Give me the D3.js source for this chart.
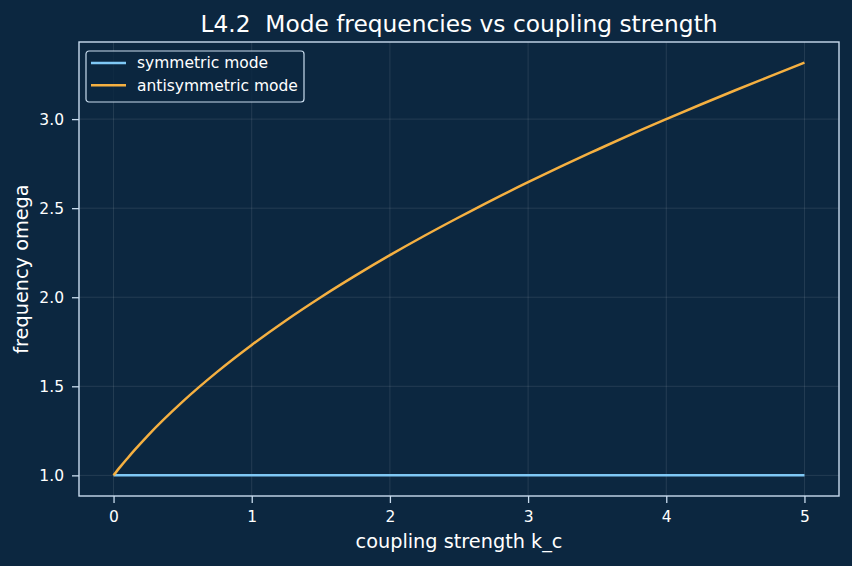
<!DOCTYPE html>
<html lang="en">
<head>
  <meta charset="UTF-8">
  <title>Mode frequencies vs coupling strength</title>
  <script src="https://d3js.org/d3.v7.min.js"></script>
  <style>
    html, body { margin: 0; padding: 0; background: #0c2740; }
    body { font-family: 'DejaVu Sans', sans-serif; }
  </style>
</head>
<body>
  <script>
    // values
    const couplingK = [0, 0.05, 0.1, 0.15, 0.25, 0.5, 0.75, 1, 1.25, 1.5, 1.75, 2, 2.25, 2.5, 2.75,
                       3, 3.25, 3.5, 3.75, 4, 4.25, 4.5, 4.75, 5];
    const symmetricOmega = [1, 1, 1, 1, 1, 1, 1, 1, 1, 1, 1, 1, 1, 1, 1,
                            1, 1, 1, 1, 1, 1, 1, 1, 1];
    const antisymOmega = [1, 1.049, 1.095, 1.140, 1.225, 1.414, 1.581, 1.732, 1.871, 2.0, 2.121, 2.236,
                          2.345, 2.449, 2.550, 2.646, 2.739, 2.828, 2.916, 3.0, 3.082, 3.162, 3.240, 3.317];
    const xTicks = [0, 1, 2, 3, 4, 5];
    const yTicks = [1.0, 1.5, 2.0, 2.5, 3.0];
    const seriesNames = ["symmetric mode", "antisymmetric mode"];
    const seriesColors = ["#7fc8f5", "#f5b041"];

    const width = 852, height = 566;
    const margin = {left: 79, right: 13, top: 42, bottom: 70};
    const fg = "#c9dcee";

    const svg = d3.create("svg")
        .attr("width", width)
        .attr("height", height)
        .style("display", "block")
        .style("background", "#0c2740");

    const xMin = d3.min(couplingK), xMax = d3.max(couplingK);
    const xPad = (xMax - xMin) * 0.05;
    const x = d3.scaleLinear()
        .domain([xMin - xPad, xMax + xPad])
        .range([margin.left, width - margin.right]);

    const yMin = d3.min(symmetricOmega.concat(antisymOmega));
    const yMax = d3.max(symmetricOmega.concat(antisymOmega));
    const yPad = (yMax - yMin) * 0.05;
    const y = d3.scaleLinear()
        .domain([yMin - yPad, yMax + yPad])
        .range([height - margin.bottom, margin.top]);

    // grid
    const grid = svg.append("g")
        .attr("stroke", "#ffffff")
        .attr("stroke-opacity", 0.13)
        .attr("stroke-width", 0.8);
    grid.selectAll("line.gx").data(xTicks).join("line")
        .attr("x1", d => x(d)).attr("x2", d => x(d))
        .attr("y1", margin.top).attr("y2", height - margin.bottom);
    grid.selectAll("line.gy").data(yTicks).join("line")
        .attr("y1", d => y(d)).attr("y2", d => y(d))
        .attr("x1", margin.left).attr("x2", width - margin.right);

    // lines
    const series = [symmetricOmega, antisymOmega];
    const line = d3.line()
        .x((d, i) => x(couplingK[i]))
        .y(d => y(d))
        .curve(d3.curveMonotoneX);

    svg.append("g")
        .selectAll("path")
        .data(series)
        .join("path")
          .attr("fill", "none")
          .attr("stroke", (d, i) => seriesColors[i])
          .attr("stroke-width", 2.5)
          .attr("d", line);

    // axes
    const xAxis = svg.append("g")
        .attr("transform", `translate(0,${height - margin.bottom})`)
        .call(d3.axisBottom(x).tickValues(xTicks).tickFormat(d3.format("d")).tickSize(7).tickPadding(8));
    const yAxis = svg.append("g")
        .attr("transform", `translate(${margin.left},0)`)
        .call(d3.axisLeft(y).tickValues(yTicks).tickFormat(d3.format(".1f")).tickSize(7).tickPadding(8));

    [xAxis, yAxis].forEach(a => {
      a.select(".domain").remove();
      a.selectAll(".tick line").attr("stroke", fg).attr("stroke-width", 1.3);
      a.selectAll(".tick text")
          .attr("fill", "#ffffff")
          .style("font-family", "'DejaVu Sans', sans-serif")
          .style("font-size", "15.5px");
    });

    // frame
    svg.append("rect")
        .attr("x", margin.left)
        .attr("y", margin.top)
        .attr("width", width - margin.left - margin.right)
        .attr("height", height - margin.top - margin.bottom)
        .attr("fill", "none")
        .attr("stroke", fg)
        .attr("stroke-width", 1.4);

    // title & labels
    svg.append("text")
        .attr("x", (margin.left + width - margin.right) / 2)
        .attr("y", 32)
        .attr("text-anchor", "middle")
        .attr("fill", "#ffffff")
        .style("font-size", "23.3px")
        .style("white-space", "pre")
        .text("L4.2  Mode frequencies vs coupling strength");

    svg.append("text")
        .attr("x", (margin.left + width - margin.right) / 2)
        .attr("y", 548)
        .attr("text-anchor", "middle")
        .attr("fill", "#ffffff")
        .style("font-size", "19.3px")
        .text("coupling strength k_c");

    svg.append("text")
        .attr("transform", `translate(28,${(margin.top + height - margin.bottom) / 2}) rotate(-90)`)
        .attr("text-anchor", "middle")
        .attr("fill", "#ffffff")
        .style("font-size", "19.3px")
        .text("frequency omega");

    // legend
    const lg = svg.append("g").attr("transform", "translate(86,51)");
    lg.append("rect")
        .attr("width", 218).attr("height", 51)
        .attr("rx", 3)
        .attr("fill", "#0c2740")
        .attr("fill-opacity", 0.85)
        .attr("stroke", fg)
        .attr("stroke-width", 1.2);
    const items = lg.selectAll("g.item").data(seriesNames).join("g")
        .attr("transform", (d, i) => `translate(0,${12 + i * 22.3})`);
    items.append("line")
        .attr("x1", 5).attr("x2", 40)
        .attr("stroke", (d, i) => seriesColors[i])
        .attr("stroke-width", 2.5);
    items.append("text")
        .attr("x", 51)
        .attr("dy", "0.35em")
        .attr("fill", "#ffffff")
        .style("font-size", "15.5px")
        .text(d => d);

    document.body.appendChild(svg.node());
  </script>
</body>
</html>
